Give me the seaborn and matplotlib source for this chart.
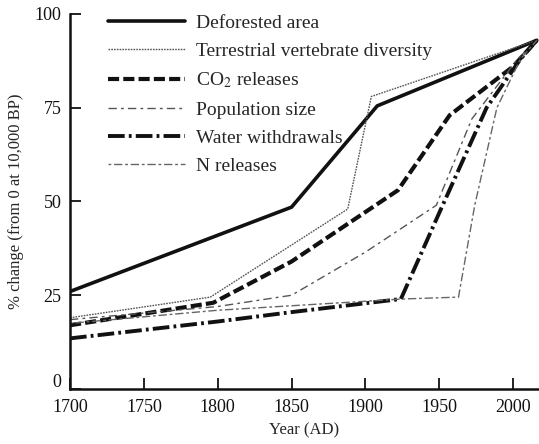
import matplotlib
matplotlib.use("Agg")
import matplotlib.pyplot as plt
import matplotlib.transforms as mtransforms
import seaborn as sns

# values: % change (from 0 at 10,000 BP)
deforest_years = [1700, 1850, 1908, 2016]
deforest = [26, 48.5, 75.5, 93]

vert_years = [1700, 1795, 1888, 1904, 2016]
vert_div = [19, 24.5, 48, 78, 93]

co2_years = [1700, 1797, 1850, 1922, 1957, 2000, 2016]
co2 = [17, 23, 34, 53, 73, 86, 93]

pop_years = [1700, 1800, 1850, 1900, 1948, 1972, 2003, 2016]
pop = [18.5, 22, 25, 36.5, 49, 72, 88, 93]

water_years = [1700, 1800, 1850, 1924, 1950, 1982, 2005, 2016]
water = [13.5, 18, 20.5, 24, 47, 75, 88, 93]

n_years = [1700, 1800, 1925, 1963, 1974, 1989, 2005, 2016]
n_rel = [17.5, 21, 24, 24.5, 49, 75, 88, 93]

labels = ["Deforested area", "Terrestrial vertebrate diversity", "CO$_2$ releases",
          "Population size", "Water withdrawals", "N releases"]
xticks = [1700, 1750, 1800, 1850, 1900, 1950, 2000]
yticks = [0, 25, 50, 75, 100]

sns.set_style("ticks")
plt.rcParams["font.family"] = ["Liberation Serif", "DejaVu Serif"]
plt.rcParams["mathtext.fontset"] = "stix"
plt.rcParams["lines.scale_dashes"] = False

# line looks, in order of the legend
styles = [
    dict(color="#111111", linewidth=2.6, linestyle="-"),
    dict(color="#555555", linewidth=1.0, linestyle=(0, (1.2, 0.8))),
    dict(color="#111111", linewidth=3.0, linestyle=(0, (8, 3))),
    dict(color="#555555", linewidth=1.0, linestyle=(0, (6, 3, 2, 3))),
    dict(color="#111111", linewidth=2.8, linestyle=(0, (12, 3, 2, 3))),
    dict(color="#666666", linewidth=1.0, linestyle=(0, (2, 2, 6, 2))),
]
series = [(deforest_years, deforest), (vert_years, vert_div), (co2_years, co2),
          (pop_years, pop), (water_years, water), (n_years, n_rel)]

fig = plt.figure(figsize=(5.39, 4.44), dpi=100)
ax = fig.add_axes([70 / 539, 55 / 444, 469 / 539, 375 / 444])

for (xs, ys), lab, st in zip(series, labels, styles):
    sns.lineplot(x=xs, y=ys, ax=ax, label=lab, sort=False, **st)

ax.set_xlim(1700, 2017.5)
ax.set_ylim(0, 100)
ax.set_xticks(xticks)
ax.set_yticks(yticks)
ax.tick_params(direction="in", length=8, width=1.3, labelsize=13, pad=6, colors="#111111")
ax.tick_params(axis="x", pad=7)
sns.despine(ax=ax)
for s in ["left", "bottom"]:
    ax.spines[s].set_linewidth(1.8)
    ax.spines[s].set_color("#111111")

# lift the "0" a little so it clears "1700", as in the original
zero_lab = ax.get_yticklabels()[0]
zero_lab.set_transform(zero_lab.get_transform() +
                       mtransforms.ScaledTranslation(0, 6 / 72, fig.dpi_scale_trans))

ax.set_xlabel("Year (AD)", fontsize=12, labelpad=5)
ax.set_ylabel("% change (from 0 at 10,000 BP)", fontsize=12, labelpad=8)

ax.legend(loc="upper left", bbox_to_anchor=(0.08, 1.0), frameon=False,
          handlelength=4.0, handletextpad=0.55, labelspacing=0.55,
          borderpad=0, borderaxespad=0, fontsize=14)

fig.savefig("out.png", dpi=100)
